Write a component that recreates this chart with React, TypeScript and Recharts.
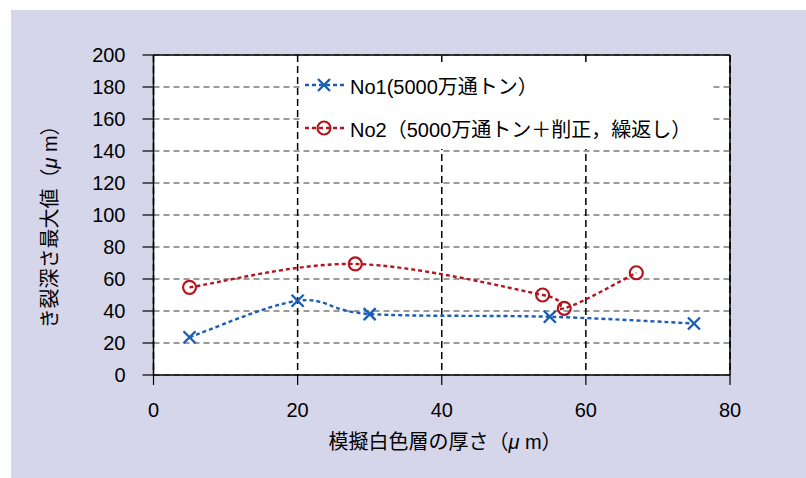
import React from "react";
import {
  LineChart,
  Line,
  XAxis,
  YAxis,
  CartesianGrid,
  ReferenceLine,
} from "recharts";

const xTicks = [0, 20, 40, 60, 80];
const yTicks = [0, 20, 40, 60, 80, 100, 120, 140, 160, 180, 200];

const no1X = [5, 20, 30, 55, 75];
const no1Y = [23.6, 46.4, 38.1, 36.4, 32.2];
const no2X = [5, 28, 54, 57, 67];
const no2Y = [54.8, 69.4, 50, 41.7, 63.9];

const no1Name = "No1(5000万通トン）";
const no2Name = "No2（5000万通トン＋削正，繰返し）";
const xTitleMain = "模擬白色層の厚さ（";
const yTitleMain = "き裂深さ最大値（";
const unitMu = "μ";
const unitRest = " m）";

const BLUE = "#1c5db5";
const RED = "#b3161e";
const FONT = "'Liberation Sans', Arial, 'Noto Sans CJK JP', sans-serif";

const no1Data = no1X.map((x, i) => ({ x, y: no1Y[i] }));
const no2Data = no2X.map((x, i) => ({ x, y: no2Y[i] }));

// Excel-like smoothed line (Catmull-Rom style Bezier), as a d3-compatible curve factory
const excelSmooth = (context: any) => {
  let pts: number[][] = [];
  return {
    areaStart() {},
    areaEnd() {},
    lineStart() {
      pts = [];
    },
    point(x: number, y: number) {
      pts.push([+x, +y]);
    },
    lineEnd() {
      const n = pts.length;
      if (n === 0) return;
      context.moveTo(pts[0][0], pts[0][1]);
      for (let i = 0; i < n - 1; i++) {
        const p0 = pts[Math.max(0, i - 1)];
        const p1 = pts[i];
        const p2 = pts[i + 1];
        const p3 = pts[Math.min(n - 1, i + 2)];
        const c1x = p1[0] + (p2[0] - p0[0]) / 6;
        const c1y = p1[1] + (p2[1] - p0[1]) / 6;
        const c2x = p2[0] - (p3[0] - p1[0]) / 6;
        const c2y = p2[1] - (p3[1] - p1[1]) / 6;
        context.bezierCurveTo(c1x, c1y, c2x, c2y, p2[0], p2[1]);
      }
    },
  };
};

const CrossDot = (p: any) => {
  const { cx, cy } = p;
  if (cx == null || cy == null) return null;
  const s = 6;
  return (
    <path
      key={p.key}
      d={`M${cx - s},${cy - s}L${cx + s},${cy + s}M${cx - s},${cy + s}L${cx + s},${cy - s}`}
      stroke={BLUE}
      strokeWidth={2.4}
      fill="none"
    />
  );
};

const CircleDot = (p: any) => {
  const { cx, cy } = p;
  if (cx == null || cy == null) return null;
  return <circle key={p.key} cx={cx} cy={cy} r={6.5} stroke={RED} strokeWidth={2.2} fill="none" />;
};

const LegendBox = () => (
  <div
    style={{
      position: "absolute",
      left: 300,
      top: 65,
      background: "#fff",
      width: 410,
      height: 84,
      fontFamily: FONT,
      fontSize: 20,
      color: "#000",
    }}
  >
    <div style={{ position: "absolute", left: 4, top: 6, display: "flex", alignItems: "center", height: 28 }}>
      <svg width={42} height={20}>
        <line x1={1} y1={10} x2={40} y2={10} stroke={BLUE} strokeWidth={2.4} strokeDasharray="4 3" />
        <path d="M14,4L26,16M14,16L26,4" stroke={BLUE} strokeWidth={2.4} fill="none" />
      </svg>
      <span style={{ marginLeft: 4, whiteSpace: "nowrap" }}>{no1Name}</span>
    </div>
    <div style={{ position: "absolute", left: 4, top: 49, display: "flex", alignItems: "center", height: 28 }}>
      <svg width={42} height={20}>
        <line x1={1} y1={10} x2={40} y2={10} stroke={RED} strokeWidth={2.4} strokeDasharray="4 3" />
        <circle cx={20} cy={10} r={6.5} stroke={RED} strokeWidth={2.2} fill="none" />
      </svg>
      <span style={{ marginLeft: 4, whiteSpace: "nowrap" }}>{no2Name}</span>
    </div>
  </div>
);

export default function App() {
  return (
    <div style={{ position: "fixed", left: 0, top: 0, width: 806, height: 478, background: "#fff" }}>
      <div style={{ position: "absolute", left: 11, top: 10, width: 795, height: 468, background: "#d6d6eb" }} />
      <div style={{ position: "absolute", left: 0, top: 0 }}>
        <LineChart
          width={806}
          height={478}
          margin={{ top: 55, right: 76, bottom: 63, left: 83.5 }}
          style={{ fontFamily: FONT }}
        >
          <CartesianGrid horizontal={true} vertical={false} stroke="#7a7a7a" strokeDasharray="6 4" strokeWidth={1.3} fill="#fff" />
          <CartesianGrid horizontal={false} vertical={true} stroke="#000" strokeDasharray="7 4" strokeWidth={1.5} />
          <XAxis
            type="number"
            dataKey="x"
            domain={[0, 80]}
            ticks={xTicks}
            interval={0}
            height={40}
            tickSize={10}
            tickMargin={18}
            axisLine={{ stroke: "#000", strokeWidth: 1.5 }}
            tickLine={{ stroke: "#000", strokeWidth: 1.2 }}
            tick={{ fill: "#000", fontSize: 20, fontFamily: FONT }}
            allowDuplicatedCategory={false}
          />
          <YAxis
            type="number"
            dataKey="y"
            domain={[0, 200]}
            ticks={yTicks}
            interval={0}
            width={70}
            tickSize={11}
            tickMargin={17}
            axisLine={{ stroke: "#000", strokeWidth: 1.5 }}
            tickLine={{ stroke: "#000", strokeWidth: 1.2 }}
            tick={{ fill: "#000", fontSize: 20, fontFamily: FONT }}
          />
          <ReferenceLine y={200} stroke="#000" strokeWidth={1.5} />
          <ReferenceLine x={80} stroke="#000" strokeWidth={1.5} />
          <Line
            data={no1Data}
            dataKey="y"
            name={no1Name}
            type={excelSmooth as any}
            stroke={BLUE}
            strokeWidth={2.4}
            strokeDasharray="4 3"
            dot={CrossDot}
            activeDot={false}
            isAnimationActive={false}
          />
          <Line
            data={no2Data}
            dataKey="y"
            name={no2Name}
            type={excelSmooth as any}
            stroke={RED}
            strokeWidth={2.4}
            strokeDasharray="4 3"
            dot={CircleDot}
            activeDot={false}
            isAnimationActive={false}
          />
        </LineChart>
      </div>
      <LegendBox />
      <div
        style={{
          position: "absolute",
          left: 445,
          top: 440,
          transform: "translate(-50%, -50%)",
          fontFamily: FONT,
          fontSize: 20,
          whiteSpace: "nowrap",
          color: "#000",
        }}
      >
        {xTitleMain}
        <i>{unitMu}</i>
        {unitRest}
      </div>
      <div
        style={{
          position: "absolute",
          left: 48,
          top: 222,
          transform: "translate(-50%, -50%) rotate(-90deg)",
          fontFamily: FONT,
          fontSize: 20,
          whiteSpace: "nowrap",
          color: "#000",
        }}
      >
        {yTitleMain}
        <i>{unitMu}</i>
        {unitRest}
      </div>
    </div>
  );
}
